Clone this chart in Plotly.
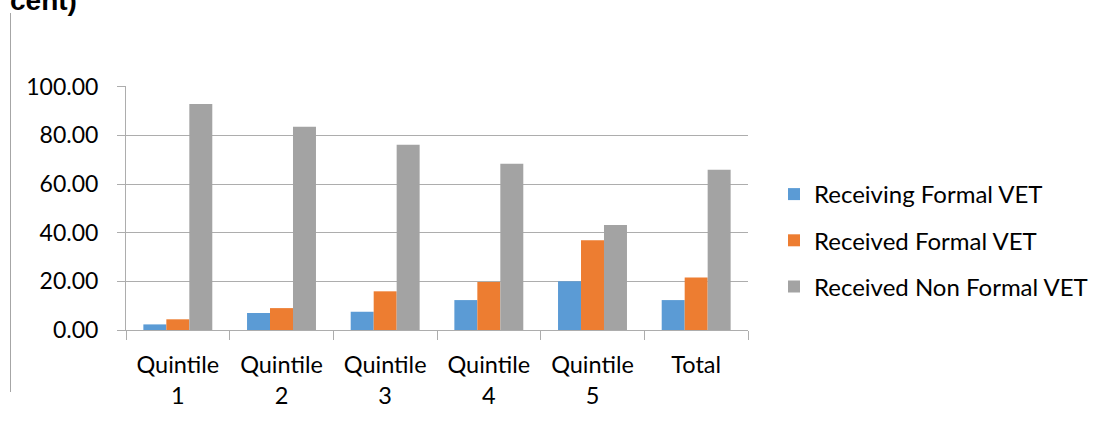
import plotly.graph_objects as go

categories = ["Quintile<br>1", "Quintile<br>2", "Quintile<br>3", "Quintile<br>4", "Quintile<br>5", "Total"]
receiving_formal = [2.3, 7.0, 7.5, 12.3, 20.0, 12.3]
received_formal = [4.4, 9.0, 15.9, 19.7, 36.9, 21.6]
received_nonformal = [92.9, 83.6, 76.1, 68.3, 43.2, 65.9]
y_ticks = [0, 20, 40, 60, 80, 100]
y_tick_labels = ["0.00", "20.00", "40.00", "60.00", "80.00", "100.00"]

W, H = 1103, 423
L, R, T, B = 126, 748, 86, 330

fig = go.Figure()
series = [
    ("Receiving Formal VET", receiving_formal, "#5B9BD5"),
    ("Received Formal VET", received_formal, "#ED7D31"),
    ("Received Non Formal VET", received_nonformal, "#A3A3A3"),
]
for name, vals, col in series:
    fig.add_trace(go.Bar(name=name, x=categories, y=vals, marker=dict(color=col, line=dict(width=0)),
                         legendgroup=name))

def px_x(p):
    return (p - L) / (R - L)

def px_y(p):
    return (B - p) / (B - T)

grid = "#ADADAD"
fig.update_layout(
    width=W, height=H,
    margin=dict(l=L, r=W - R, t=T, b=H - B, autoexpand=False),
    paper_bgcolor="white", plot_bgcolor="white",
    barmode="group", bargap=0.335, bargroupgap=0,
    font=dict(family="Lato", color="#000000"),
    legend=dict(x=px_x(774), y=px_y(172), xanchor="left", yanchor="top",
                font=dict(family="Lato", size=24, color="#000000"),
                tracegroupgap=12, itemwidth=30),
    showlegend=True,
    xaxis=dict(showline=True, linecolor=grid, linewidth=1,
               ticks="outside", tickson="boundaries", ticklen=9, tickcolor=grid,
               tickfont=dict(family="Lato", size=23.5, color="#000000"),
               ticklabelstandoff=14,
               showgrid=False),
    yaxis=dict(range=[0, 100.3], tickvals=y_ticks, ticktext=y_tick_labels,
               showgrid=True, gridcolor=grid, gridwidth=1,
               ticks="outside", ticklen=8, tickcolor=grid,
               showline=True, linecolor=grid, linewidth=1, zeroline=False,
               tickfont=dict(family="Lato", size=23, color="#000000"),
               ticklabelstandoff=14),
)

fig.add_shape(type="line", xref="paper", yref="paper",
              x0=px_x(10.5), x1=px_x(10.5), y0=px_y(13), y1=px_y(392),
              line=dict(color="#A6A6A6", width=1))

fig.add_annotation(text="<b>cent)</b>", xref="paper", yref="paper",
                   x=px_x(8), y=px_y(1), xanchor="left", yanchor="middle",
                   showarrow=False, font=dict(family="Liberation Sans", size=28, color="#000000"))

fig.write_html("out.html")
